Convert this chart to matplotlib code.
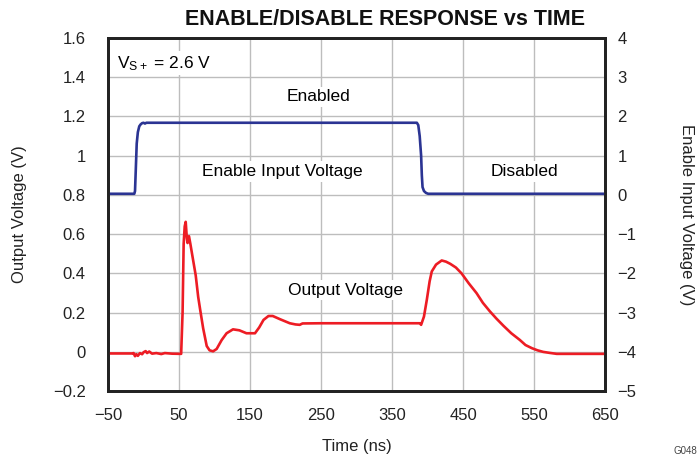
import matplotlib.pyplot as plt
import numpy as np

plt.rcParams['font.family'] = ['Liberation Sans', 'DejaVu Sans']

# output voltage (V) vs time (ns)
out_t = [-50, -30, -16, -14, -12, -10, -8, -5, -2, 0, 3, 5, 8, 12, 18, 25, 30, 40, 53,
         55, 56.5, 58, 59.4, 61, 62, 63, 64, 66, 68.8, 73.5, 77, 80, 84, 89, 93, 98,
         103, 110, 117, 126, 135, 145, 157, 163, 169, 176, 182, 192, 206, 214, 220,
         224, 250, 300, 350, 389, 391, 395, 399, 403, 406, 412, 420, 426, 432, 440,
         448, 458, 469, 478, 488, 497, 507, 518, 530, 538, 547, 555, 563, 572, 582,
         600, 650]
out_v = [-0.008, -0.008, -0.008, -0.006, -0.022, -0.012, -0.02, -0.006, -0.012, -0.002,
         0.004, -0.006, 0.002, -0.009, -0.006, -0.011, -0.006, -0.009, -0.01,
         0.2, 0.55, 0.64, 0.663, 0.58, 0.555, 0.585, 0.59, 0.55, 0.49, 0.39, 0.28, 0.21,
         0.12, 0.03, 0.008, 0.003, 0.015, 0.06, 0.095, 0.115, 0.11, 0.095, 0.095, 0.125,
         0.163, 0.183, 0.183, 0.167, 0.146, 0.14, 0.138, 0.145, 0.146, 0.146, 0.146,
         0.146, 0.138, 0.18, 0.265, 0.36, 0.41, 0.445, 0.466, 0.46, 0.449, 0.43, 0.40,
         0.35, 0.30, 0.25, 0.206, 0.17, 0.133, 0.095, 0.061, 0.035, 0.019, 0.008, 0.0,
         -0.005, -0.01, -0.01, -0.01]

# enable input voltage (V) vs time (ns)
en_t = [-50, -13, -12, -11, -9.6, -8, -6, -4, -2, 0, 2, 4, 385, 387, 389, 391, 392, 393,
        394, 395, 398, 401, 650]
en_v = [0.03, 0.03, 0.1, 0.6, 1.31, 1.6, 1.75, 1.8, 1.83, 1.84, 1.82, 1.84, 1.84, 1.78,
        1.5, 1.0, 0.5, 0.2, 0.15, 0.1, 0.05, 0.03, 0.03]

x_ticks = [-50, 50, 150, 250, 350, 450, 550, 650]
x_labels = ['\u221250', '50', '150', '250', '350', '450', '550', '650']
y_ticks = [-0.2, 0, 0.2, 0.4, 0.6, 0.8, 1.0, 1.2, 1.4, 1.6]
y_labels = ['\u22120.2', '0', '0.2', '0.4', '0.6', '0.8', '1', '1.2', '1.4', '1.6']
y2_ticks = [-5, -4, -3, -2, -1, 0, 1, 2, 3, 4]
y2_labels = ['\u22125', '\u22124', '\u22123', '\u22122', '\u22121', '0', '1', '2', '3', '4']

fig = plt.figure(figsize=(6.97, 4.58), dpi=100)
ax = fig.add_axes([0.155, 0.146, 0.713, 0.771])
ax2 = ax.twinx()

ax.plot(out_t, out_v, color='#ED1C24', lw=1.9, zorder=3)
ax2.plot(en_t, en_v, color='#2B3493', lw=1.9)

ax.set_xlim(-50, 650)
ax.set_ylim(-0.2, 1.6)
ax2.set_ylim(-5, 4)
ax.set_xticks(x_ticks)
ax.set_xticklabels(x_labels)
ax.set_yticks(y_ticks)
ax.set_yticklabels(y_labels)
ax2.set_yticks(y2_ticks)
ax2.set_yticklabels(y2_labels)

ax.grid(True, color='#BDBDBD', lw=1.0)
ax.set_axisbelow(True)
for a in (ax, ax2):
    a.tick_params(length=0, labelsize=12, colors='#222222')
    for s in a.spines.values():
        s.set_linewidth(2.0)
        s.set_color('#222222')
ax.tick_params(axis='x', pad=12)
ax.tick_params(axis='y', pad=16)
ax2.tick_params(axis='y', pad=9)

ax.set_xlabel('Time (ns)', fontsize=12, labelpad=12, color='#222222')
ax.set_ylabel('Output Voltage (V)', fontsize=12, labelpad=19, color='#222222')
ax2.set_ylabel('Enable Input Voltage (V)', fontsize=12, rotation=-90, labelpad=41,
               color='#222222')
fig.text(0.553, 0.958, 'ENABLE/DISABLE RESPONSE vs TIME', fontsize=15.5,
         fontweight='bold', ha='center', va='center', color='#111111')

box = dict(facecolor='white', edgecolor='none', pad=2)
ax.text(246, 1.30, 'Enabled', ha='center', va='center', fontsize=12.5, bbox=box)
ax.text(195, 0.92, 'Enable Input Voltage', ha='center', va='center', fontsize=12.5, bbox=box)
ax.text(537, 0.92, 'Disabled', ha='center', va='center', fontsize=12.5, bbox=box)
ax.text(284, 0.315, 'Output Voltage', ha='center', va='center', fontsize=12.5, bbox=box)
ax.text(0.018, 0.955, '$\\mathregular{V_{S+}}$ = 2.6 V', transform=ax.transAxes,
        ha='left', va='top', fontsize=12.5, bbox=box)

fig.text(0.967, 0.008, 'G048', fontsize=7, color='#444444')

fig.savefig('out.png', dpi=100)
